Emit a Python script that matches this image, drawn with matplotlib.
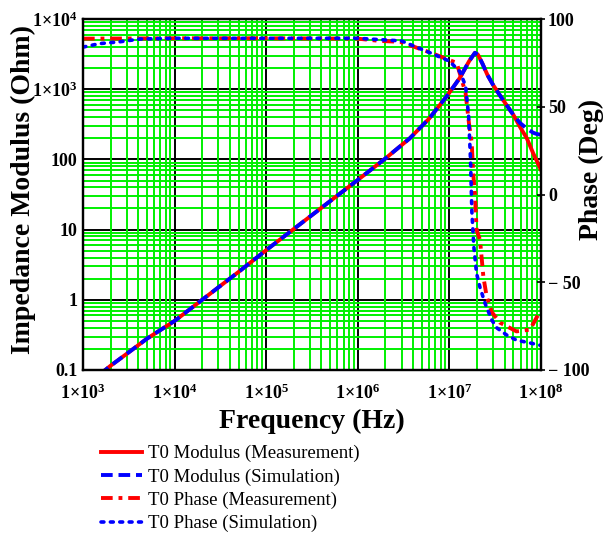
import math
import matplotlib
matplotlib.use('Agg')
import matplotlib.pyplot as plt
from matplotlib.ticker import FixedLocator, LogLocator, NullFormatter, FuncFormatter
from matplotlib.lines import Line2D

plt.rcParams['font.family'] = ['Liberation Serif', 'DejaVu Serif']
plt.rcParams['mathtext.fontset'] = 'custom'
plt.rcParams['mathtext.rm'] = 'Liberation Serif'
plt.rcParams['mathtext.bf'] = 'Liberation Serif:bold'

# Modulus (Ohm) vs frequency (Hz)
mod_freq = [1.5e3, 2e3, 3e3, 5e3, 1e4, 2e4, 5e4, 1e5, 2e5, 5e5, 1e6, 2e6,
            3.7e6, 6e6, 9.4e6, 1.3e7, 1.64e7, 1.9e7, 2.05e7, 2.3e7, 2.6e7, 3e7,
            3.6e7, 4.26e7, 5e7, 5.9e7, 7e7, 8.2e7, 9e7, 1e8]
mod_meas = [0.085, 0.115, 0.17, 0.28, 0.5, 1.0, 2.5, 5.1, 10.2, 25.5, 51, 103,
            200, 380, 800, 1450, 2500, 3300, 3100, 2300, 1600, 1150,
            800, 580, 430, 290, 200, 123, 95, 71]
mod_sim = [0.085, 0.115, 0.17, 0.28, 0.5, 1.0, 2.5, 5.1, 10.2, 25.5, 51, 103,
           200, 380, 800, 1450, 2500, 3300, 3100, 2300, 1600, 1150,
           800, 580, 430, 330, 275, 240, 230, 224]

# Phase (Deg) vs frequency (Hz)
ph_meas_freq = [1e3, 1e4, 1e5, 1e6, 1.74e6, 2.9e6, 6.1e6, 1.2e7, 1.5e7, 1.64e7,
                1.75e7, 1.82e7, 1.9e7, 1.98e7, 2.16e7, 2.35e7, 2.55e7, 2.9e7,
                3.56e7, 5.4e7, 7.6e7, 8.97e7, 1e8]
ph_meas = [88.8, 89, 89, 88.8, 87.5, 87, 81, 75, 58, 40,
           30, 12, 0, -20, -26, -47, -58, -67,
           -73, -78, -77, -70, -66]
ph_sim_freq = [1e3, 1.53e3, 2.5e3, 4.2e3, 1e4, 1e5, 1e6, 3e6, 6e6, 1e7, 1.3e7,
               1.5e7, 1.62e7, 1.7e7, 1.76e7, 1.85e7, 1.98e7, 2.16e7, 2.45e7,
               2.9e7, 3.3e7, 4.2e7, 5.4e7, 7.6e7, 1e8]
ph_sim = [84, 86, 87, 88.6, 89, 89, 89, 87.5, 81, 76, 70,
          62, 45, 20, -10, -30, -45, -53, -62,
          -71.5, -76, -80, -83, -84.6, -86]

x_ticks = [1e3, 1e4, 1e5, 1e6, 1e7, 1e8]
y_ticks = [0.1, 1, 10, 100, 1e3, 1e4]
y_labels = ['0.1', '1', '10', '100', r'$\mathbf{1{\times}10^{3}}$', r'$\mathbf{1{\times}10^{4}}$']
ph_ticks = [100, 50, 0, -50, -100]
ph_labels = ['100', '50', '0', '\u2212 50', '\u2212 100']

RED = '#ff0000'
BLUE = '#0000ff'
GREEN = '#00f000'

fig = plt.figure(figsize=(6.07, 5.35), dpi=100)
ax = fig.add_axes([83 / 607, 1 - 370 / 535, 458 / 607, 351 / 535])
ax.set_xscale('log')
ax.set_yscale('log')
ax.set_xlim(1e3, 1e8)
ax.set_ylim(0.1, 1e4)

ax.xaxis.set_minor_locator(LogLocator(base=10, subs=range(2, 10), numticks=20))
ax.yaxis.set_minor_locator(LogLocator(base=10, subs=range(2, 10), numticks=20))
ax.xaxis.set_minor_formatter(NullFormatter())
ax.yaxis.set_minor_formatter(NullFormatter())
ax.grid(which='minor', color=GREEN, lw=1.4, zorder=0)
# black decade lines drawn on top of the green minor grid
for xv in x_ticks[1:-1]:
    ax.axvline(xv, color='black', lw=1.4, zorder=1)
for yv in y_ticks[1:-1]:
    ax.axhline(yv, color='black', lw=1.4, zorder=1)

ax.set_xticks(x_ticks)
ax.xaxis.set_major_formatter(FuncFormatter(
    lambda v, p: r'$\mathbf{1{\times}10^{%d}}$' % round(math.log10(v))))
ax.set_yticks(y_ticks)
ax.set_yticklabels(y_labels)
ax.tick_params(which='both', length=0)
ax.tick_params(axis='x', pad=10, labelsize=13)
ax.tick_params(axis='y', pad=4, labelsize=13)
for lab in ax.get_yticklabels():
    lab.set_fontweight('bold')

ax.plot(mod_freq, mod_meas, color=RED, lw=2.8, ls='-', zorder=3)
ax.plot(mod_freq, mod_sim, color=BLUE, lw=2.8, ls=(0, (3, 1.5)), zorder=4)

for s in ax.spines.values():
    s.set_linewidth(1.6)
    s.set_zorder(6)

ax.set_xlabel('Frequency (Hz)', fontsize=20, fontweight='bold', labelpad=4)
ax.set_ylabel('Impedance Modulus (Ohm)', fontsize=20, fontweight='bold')
ax.yaxis.set_label_coords(-0.102, 0.513)

ax2 = ax.twinx()
ax2.set_ylim(-100, 100)
ax2.yaxis.set_major_locator(FixedLocator(ph_ticks))
ax2.set_yticklabels(ph_labels)
ax2.tick_params(axis='y', length=6, direction='inout', width=1.2, pad=2, labelsize=13)
for lab in ax2.get_yticklabels():
    lab.set_fontweight('bold')
ax2.plot(ph_meas_freq, ph_meas, color=RED, lw=2.8, ls=(0, (3, 1.5, 1, 1.5)))
ax2.plot(ph_sim_freq, ph_sim, color=BLUE, lw=2.6, ls=(0, (0.8, 1.8)),
         dash_capstyle='round')
ax2.set_ylabel('Phase (Deg)', fontsize=20, fontweight='bold', rotation=90)
ax2.yaxis.set_label_coords(1.083, 0.57)
for s in ax2.spines.values():
    s.set_linewidth(1.6)

handles = [
    Line2D([], [], color=RED, lw=2.8, ls='-'),
    Line2D([], [], color=BLUE, lw=2.8, ls=(0, (3, 1.5))),
    Line2D([], [], color=RED, lw=2.8, ls=(0, (3, 1.5, 1, 1.5))),
    Line2D([], [], color=BLUE, lw=2.6, ls=(0, (0.8, 1.8)), dash_capstyle='round'),
]
labels = ['T0 Modulus (Measurement)', 'T0 Modulus (Simulation)',
          'T0 Phase (Measurement)', 'T0 Phase (Simulation)']
fig.legend(handles, labels, loc='upper left', bbox_to_anchor=(101 / 607, 1 - 445 / 535),
           frameon=False, fontsize=13.5, handlelength=2.2, handletextpad=0.3,
           labelspacing=0.32, borderpad=0, borderaxespad=0)

fig.savefig('out.png', dpi=100)
